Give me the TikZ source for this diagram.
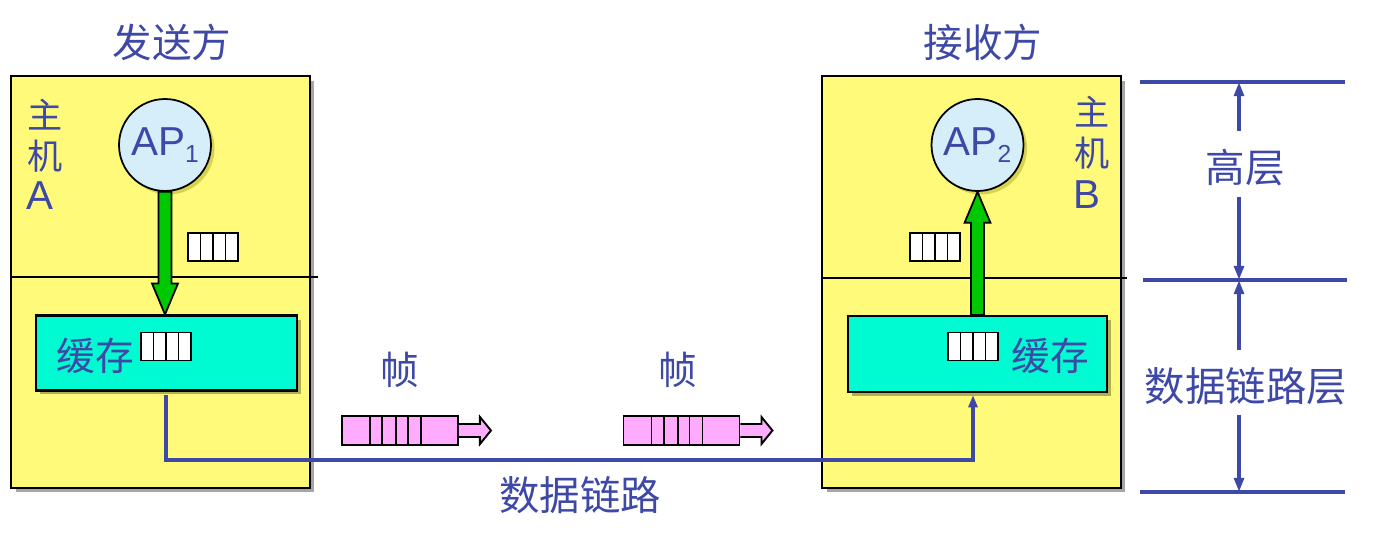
\documentclass[tikz,border=0pt]{standalone}
\usepackage{fontspec}
\setmainfont{Liberation Sans}
\newfontfamily\cjk{Noto Sans CJK SC}
\usetikzlibrary{shadows,calc,arrows.meta}
\definecolor{ybox}{RGB}{255,250,122}
\definecolor{bufcol}{RGB}{0,250,210}
\definecolor{tblue}{RGB}{62,72,166}
\definecolor{pinkf}{RGB}{255,172,255}
\definecolor{greenf}{RGB}{0,200,0}
\definecolor{apblue}{RGB}{214,238,250}
\begin{document}
\begin{tikzpicture}[x=0.02cm,y=-0.02cm,
  hostbox/.style={draw=black,fill=ybox,line width=1.2pt,minimum width=5.98cm,minimum height=8.24cm,
    drop shadow={shadow xshift=0.09cm,shadow yshift=-0.09cm,fill=black,opacity=0.35}},
  bufbox/.style={draw=black,fill=bufcol,line width=1.2pt,minimum height=1.5cm,
    drop shadow={shadow xshift=0.08cm,shadow yshift=-0.08cm,fill=black,opacity=0.3}},
  apnode/.style={circle,draw=black,fill=apblue,line width=1pt,minimum size=1.84cm,inner sep=0pt,
    text=tblue,font=\fontsize{23}{26}\selectfont,
    drop shadow={shadow xshift=0.07cm,shadow yshift=-0.07cm,fill=olive,opacity=0.35}},
  pkt/.style={draw=black,fill=white,line width=1.1pt,minimum width=1.0cm,minimum height=0.56cm,inner sep=0pt,
    path picture={\foreach \i in {1,2,3}{\draw[line width=1.1pt]
      ($(path picture bounding box.north west)!\i/4!(path picture bounding box.north east)$) --
      ($(path picture bounding box.south west)!\i/4!(path picture bounding box.south east)$);}}},
  frame/.style={draw=black,fill=pinkf,line width=1.1pt,minimum width=2.32cm,minimum height=0.58cm,inner sep=0pt,
    path picture={\foreach \f in {0.241,0.345,0.466,0.569,0.681}{\draw[line width=1.1pt]
      ($(path picture bounding box.north west)!\f!(path picture bounding box.north east)$) --
      ($(path picture bounding box.south west)!\f!(path picture bounding box.south east)$);}}},
  farrow/.style={draw=black,fill=pinkf,line width=1.1pt,line join=miter},
  garrow/.style={draw=black,fill=greenf,line width=1pt,line join=miter},
  lbl/.style={text=tblue,inner sep=0pt,font=\cjk\fontsize{22}{26}\selectfont},
  latin/.style={text=tblue,inner sep=0pt,font=\fontsize{23}{26}\selectfont},
  link/.style={draw=tblue,line width=2.3pt},
  dim/.style={draw=tblue,line width=2.3pt},
  hline/.style={draw=tblue,line width=1.9pt},
  tip/.style={-{Triangle[width=5.5pt,length=8pt]}}
]
\useasboundingbox (0,0) rectangle (1378,543);

% host boxes
\node[hostbox] (hostA) at (160.5,282) {};
\node[hostbox] (hostB) at (971.5,282) {};
\coordinate (dAl) at (11,277); \coordinate (dAr) at (318,277);
\coordinate (dBl) at (822,278); \coordinate (dBr) at (1127,278);
\draw[line width=1.2pt] (dAl) -- (dAr);
\draw[line width=1.2pt] (dBl) -- (dBr);

% titles
\node[lbl,font=\cjk\fontsize{22.5}{26}\selectfont] (tA) at (172,42) {发送方};
\node[lbl,font=\cjk\fontsize{22.5}{26}\selectfont] (tB) at (983,42) {接收方};

% host labels
\node[lbl,font=\cjk\fontsize{20}{24}\selectfont,anchor=west] (zA1) at (27,115) {主};
\node[lbl,font=\cjk\fontsize{20}{24}\selectfont,anchor=west] (zA2) at (27,156) {机};
\node[latin,anchor=west] (zA3) at (26,196) {A};
\node[lbl,font=\cjk\fontsize{20}{24}\selectfont,anchor=west] (zB1) at (1074,112) {主};
\node[lbl,font=\cjk\fontsize{20}{24}\selectfont,anchor=west] (zB2) at (1074,153) {机};
\node[latin,anchor=west] (zB3) at (1073,195) {B};

% link line (behind buffers)
\coordinate (la) at (166,395);
\coordinate (lb) at (973,395);
\draw[link,-{Triangle[width=5pt,length=7pt]}] (la) -- ++(0,65) -| (lb);

% buffers
\node[bufbox,minimum width=5.22cm] (bufA) at (166.5,353) {};
\node[bufbox,minimum width=5.18cm,minimum height=1.52cm] (bufB) at (977.5,354) {};
\node[lbl,font=\cjk\fontsize{22}{26}\selectfont] (cA) at (95,356) {缓存};
\node[lbl,font=\cjk\fontsize{22}{26}\selectfont] (cB) at (1050,356) {缓存};

% application circles
\node[apnode] (ap1) at (165,145) {AP\raisebox{-0.35ex}{\fontsize{14}{14}\selectfont 1}};
\node[apnode] (ap2) at (977.5,145) {AP\raisebox{-0.35ex}{\fontsize{14}{14}\selectfont 2}};

% green arrows
\draw[garrow] ($(ap1.south)+(-6.5,0)$) -- ($(ap1.south)+(6.5,0)$) --
  ($(ap1.south |- bufA.north)+(6.5,-31)$) -- ($(ap1.south |- bufA.north)+(13,-31)$) --
  (ap1.south |- bufA.north) -- ($(ap1.south |- bufA.north)+(-13,-31)$) --
  ($(ap1.south |- bufA.north)+(-6.5,-31)$) -- cycle;
\draw[garrow] ($(ap2.south |- bufB.north)+(-6.5,0)$) -- ($(ap2.south |- bufB.north)+(6.5,0)$) --
  ($(ap2.south)+(6.5,31)$) -- ($(ap2.south)+(13,31)$) -- (ap2.south) --
  ($(ap2.south)+(-13,31)$) -- ($(ap2.south)+(-6.5,31)$) -- cycle;

% packets
\node[pkt] (pA) at (213,247) {};
\node[pkt] (pA2) at (166,346.5) {};
\node[pkt] (pB) at (935,247) {};
\node[pkt] (pB2) at (973,346.5) {};

% frames
\node[lbl] (f1) at (400,370) {帧};
\node[lbl] (f2) at (678,370) {帧};
\node[frame] (fr1) at (400,430.5) {};
\node[frame] (fr2) at (681.5,430.5) {};
\foreach \fr in {fr1,fr2}{
  \draw[farrow] ($(\fr.east)+(0,-6.5)$) -- ++(21,0) -- ++(0,-7) -- ($(\fr.east)+(32,0)$) --
    ($(\fr.east)+(21,13.5)$) -- ++(0,-7) -- ($(\fr.east)+(0,6.5)$);
}
\node[lbl,font=\cjk\fontsize{23}{26}\selectfont] (dl) at (580,495) {数据链路};

% right-side layer scale
\coordinate (h1l) at (1140,82); \coordinate (h1r) at (1345,82);
\coordinate (h2l) at (1143,280); \coordinate (h2r) at (1347,280);
\coordinate (h3l) at (1140,492); \coordinate (h3r) at (1345,492);
\draw[hline] (h1l) -- (h1r);
\draw[hline] (h2l) -- (h2r);
\draw[hline] (h3l) -- (h3r);
\node[lbl,font=\cjk\fontsize{22.5}{26}\selectfont] (gc) at (1245,168) {高层};
\node[lbl,font=\cjk\fontsize{23}{26}\selectfont] (sj) at (1246,386) {数据链路层};
\coordinate (v1) at (1239,82); \coordinate (v2) at (1239,280); \coordinate (v3) at (1239,492);
\draw[dim,tip] (v1 |- 0,131) -- (v1);
\draw[dim,tip] (v1 |- 0,197) -- (v2);
\draw[dim,tip] (v2 |- 0,350) -- (v2);
\draw[dim,tip] (v2 |- 0,415) -- (v3);
\end{tikzpicture}
\end{document}
